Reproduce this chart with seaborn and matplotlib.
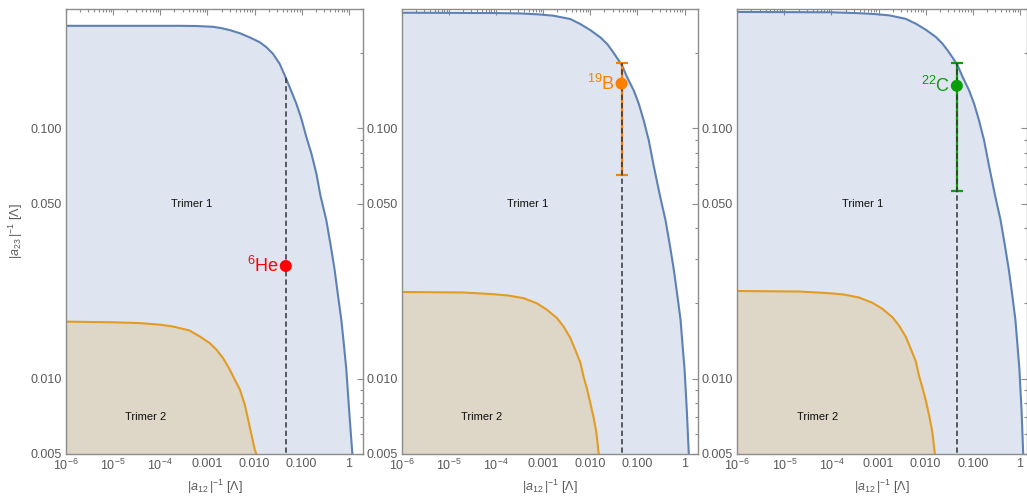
import matplotlib
matplotlib.use('Agg')
import matplotlib.pyplot as plt
import seaborn as sns
from matplotlib.ticker import FixedLocator, FixedFormatter, NullFormatter

# boundary curves  (x = |a12|^-1, y = |a23|^-1)
he_trimer1_x = [1e-6, 1e-4, 2.6e-4, 5.9e-4, 1.32e-3, 2.0e-3, 2.99e-3, 4.9e-3, 7.9e-3, 0.0129, 0.0179, 0.0247,
                0.0342, 0.0437, 0.0557, 0.0773, 0.0986, 0.126, 0.161, 0.205, 0.249, 0.333, 0.411, 0.5, 0.588,
                0.693, 0.787, 0.885, 1.02, 1.19]
he_trimer1_y = [0.257, 0.257, 0.257, 0.2565, 0.2547, 0.2515, 0.247, 0.240, 0.231, 0.221, 0.211, 0.1985,
                0.181, 0.163, 0.146, 0.1254, 0.1093, 0.0923, 0.0793, 0.066, 0.0541, 0.043, 0.0342, 0.0272, 0.0216,
                0.0172, 0.01366, 0.0109, 0.00739, 0.005]
he_trimer2_x = [1e-6, 1e-5, 3.7e-5, 1.0e-4, 1.9e-4, 4.2e-4, 6.9e-4, 1.12e-3, 1.56e-3, 2.15e-3, 2.99e-3,
                3.8e-3, 4.9e-3, 6.2e-3, 7.3e-3, 8.6e-3, 0.0101, 0.0109]
he_trimer2_y = [0.0169, 0.0168, 0.01667, 0.01643, 0.01615, 0.01557, 0.01474, 0.01387, 0.01305, 0.01209,
                0.01086, 0.00991, 0.00904, 0.00788, 0.00687, 0.00598, 0.00521, 0.005]

b_trimer1_x = [1e-6, 1e-4, 3.3e-4, 8e-4, 1.67e-3, 3.78e-3, 6.2e-3, 0.01005, 0.0164, 0.0228, 0.029, 0.0372,
               0.0474, 0.0606, 0.0838, 0.107, 0.136, 0.174, 0.223, 0.299, 0.394, 0.487, 0.593, 0.70, 0.822,
               0.906, 1.0, 1.12, 1.23]
b_trimer1_y = [0.290, 0.289, 0.288, 0.2855, 0.282, 0.2735, 0.261, 0.247, 0.231, 0.2175, 0.2046, 0.191,
               0.178, 0.160, 0.1417, 0.1254, 0.1076, 0.0896, 0.0705, 0.0541, 0.043, 0.0342, 0.0272, 0.0216, 0.0172,
               0.01366, 0.0109, 0.00739, 0.005]
b_trimer2_x = [1e-6, 2e-5, 7.5e-5, 1.8e-4, 3.85e-4, 7.4e-4, 1.21e-3, 1.97e-3, 2.72e-3, 3.78e-3, 4.8e-3,
               6.2e-3, 7.2e-3, 8.6e-3, 0.01, 0.0118, 0.0135, 0.0151]
b_trimer2_y = [0.0222, 0.0221, 0.0218, 0.0215, 0.02097, 0.0200, 0.01884, 0.01745, 0.01615, 0.01453, 0.01305,
               0.01155, 0.0102, 0.00904, 0.0080, 0.00698, 0.00608, 0.005]

c_trimer1_x = [1e-6, 1e-4, 3.3e-4, 8e-4, 1.67e-3, 3.78e-3, 6.2e-3, 0.01005, 0.0164, 0.0228, 0.029, 0.0372,
               0.0474, 0.0606, 0.0838, 0.107, 0.136, 0.174, 0.223, 0.297, 0.39, 0.48, 0.585, 0.69, 0.805,
               0.89, 0.98, 1.09, 1.18]
c_trimer1_y = [0.292, 0.291, 0.289, 0.2865, 0.283, 0.274, 0.262, 0.248, 0.232, 0.218, 0.2055, 0.192,
               0.179, 0.161, 0.1417, 0.1254, 0.1076, 0.0896, 0.0705, 0.0541, 0.043, 0.0342, 0.0272, 0.0216, 0.0172,
               0.01366, 0.0109, 0.00739, 0.005]
c_trimer2_x = [1e-6, 2e-5, 7.5e-5, 1.8e-4, 3.85e-4, 7.4e-4, 1.21e-3, 1.97e-3, 2.72e-3, 3.78e-3, 4.8e-3,
               6.2e-3, 7.2e-3, 8.7e-3, 0.0102, 0.0121, 0.0139, 0.0157]
c_trimer2_y = [0.0224, 0.0223, 0.0220, 0.0217, 0.0211, 0.0201, 0.0190, 0.0176, 0.0163, 0.0147, 0.0132,
               0.0117, 0.0103, 0.0091, 0.0081, 0.0070, 0.0061, 0.005]

# nuclei
nuc_labels = [r'$^{6}$He', r'$^{19}$B', r'$^{22}$C']
nuc_x = [0.046, 0.046, 0.046]
nuc_y = [0.0282, 0.151, 0.148]
nuc_lo = [None, 0.065, 0.0562]
nuc_hi = [None, 0.182, 0.182]
dash_top = [0.163, 0.182, 0.182]
nuc_colors = ['#ff0000', '#ff8000', '#0a9e0a']

x_major = [1e-6, 1e-5, 1e-4, 1e-3, 1e-2, 1e-1, 1]
x_major_labels = [r'$10^{-6}$', r'$10^{-5}$', r'$10^{-4}$', '0.001', '0.010', '0.100', '1']
y_major = [0.005, 0.01, 0.05, 0.1]
y_major_labels = ['0.005', '0.010', '0.050', '0.100']

sns.set_style('white')
plt.rcParams['font.family'] = ['Liberation Sans', 'DejaVu Sans']
plt.rcParams['mathtext.fontset'] = 'custom'
plt.rcParams['mathtext.rm'] = 'Liberation Sans'
plt.rcParams['mathtext.it'] = 'Liberation Sans:italic'

blue = '#5e81b5'
orange = '#e19c24'
frame = '#8c8c8c'
txt = '#5a5a5a'

W, H = 1027, 497
fig = plt.figure(figsize=(W / 100, H / 100), dpi=100)
boxes = [(66, 297), (401.7, 296), (737.3, 289.7)]
xmax = [2.0, 1.9, 1.42]
curves = [(he_trimer1_x, he_trimer1_y, he_trimer2_x, he_trimer2_y),
          (b_trimer1_x, b_trimer1_y, b_trimer2_x, b_trimer2_y),
          (c_trimer1_x, c_trimer1_y, c_trimer2_x, c_trimer2_y)]

minor_x = [m * 10.0 ** e for e in range(-6, 1) for m in range(2, 10)]
minor_y = [0.006, 0.007, 0.008, 0.009, 0.02, 0.03, 0.04, 0.06, 0.07, 0.08, 0.09, 0.2, 0.3]

for i, (left, width) in enumerate(boxes):
    ax = fig.add_axes([left / W, 43 / H, width / W, 445 / H])
    ax.set_xscale('log')
    ax.set_yscale('log')
    ax.set_xlim(1e-6, xmax[i])
    ax.set_ylim(0.005, 0.3)

    x1, y1, x2, y2 = curves[i]
    ax.fill_between(x1, y1, 1e-4, color=blue, alpha=0.2, lw=0, zorder=1)
    ax.fill_between(x2, y2, 1e-4, color=orange, alpha=0.2, lw=0, zorder=1)
    sns.lineplot(x=x1, y=y1, ax=ax, color=blue, lw=1.5, estimator=None, sort=False, zorder=2)
    sns.lineplot(x=x2, y=y2, ax=ax, color=orange, lw=1.5, estimator=None, sort=False, zorder=2)

    c = nuc_colors[i]
    if nuc_lo[i] is not None:
        ax.errorbar([nuc_x[i]], [nuc_y[i]],
                    yerr=[[nuc_y[i] - nuc_lo[i]], [nuc_hi[i] - nuc_y[i]]],
                    fmt='none', ecolor=c, elinewidth=1.6, capsize=4, capthick=1.6, zorder=3)
    ax.plot([nuc_x[i], nuc_x[i]], [0.004, dash_top[i]], color='#333333', lw=1.1,
            ls=(0, (3.5, 2)), zorder=4)
    sns.scatterplot(x=[nuc_x[i]], y=[nuc_y[i]], ax=ax, color=c, s=75, edgecolor='none', zorder=5)
    ax.annotate(nuc_labels[i], (nuc_x[i], nuc_y[i]), xytext=(-5, 0), textcoords='offset points',
                ha='right', va='center', color=c, fontsize=13)

    ax.text(4.7e-4, 0.05, 'Trimer 1', ha='center', va='center', fontsize=8, color='#111111')
    ax.text(5e-5, 0.007, 'Trimer 2', ha='center', va='center', fontsize=8, color='#111111')

    ax.xaxis.set_major_locator(FixedLocator(x_major))
    ax.xaxis.set_major_formatter(FixedFormatter(x_major_labels))
    ax.xaxis.set_minor_locator(FixedLocator(minor_x))
    ax.xaxis.set_minor_formatter(NullFormatter())
    ax.yaxis.set_major_locator(FixedLocator(y_major))
    ax.yaxis.set_major_formatter(FixedFormatter(y_major_labels))
    ax.yaxis.set_minor_locator(FixedLocator(minor_y))
    ax.yaxis.set_minor_formatter(NullFormatter())
    ax.tick_params(which='both', direction='in', top=True, right=True, color=frame,
                   labelcolor=txt, labelsize=9, width=0.8)
    ax.tick_params(which='major', length=4.5, pad=3)
    ax.tick_params(which='minor', length=2.5)
    for s in ax.spines.values():
        s.set_color(frame)
        s.set_linewidth(1.0)

    ax.set_xlabel(r'$|a_{12}\,|^{-1}$ [Λ]', color=txt, fontsize=9, labelpad=3)
    if i == 0:
        ax.set_ylabel(r'$|a_{23}\,|^{-1}$ [Λ]', color=txt, fontsize=9, labelpad=4)

fig.savefig('out.png', dpi=100)
